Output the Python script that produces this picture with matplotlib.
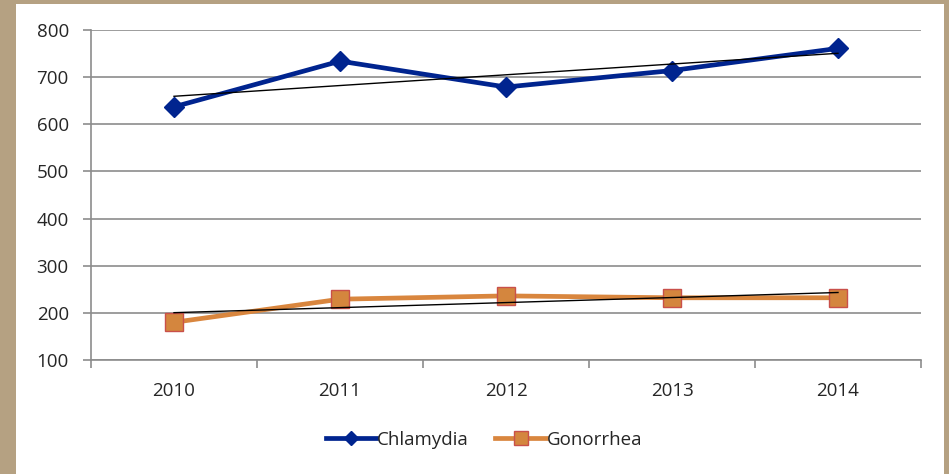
import matplotlib.pyplot as plt
from matplotlib.patches import Rectangle
import numpy as np

years = ["2010", "2011", "2012", "2013", "2014"]
chlamydia = [637, 734, 679, 714, 761]
gonorrhea = [180, 229, 236, 232, 232]

W, H = 949, 474
fig = plt.figure(figsize=(W / 100, H / 100), dpi=100)
fig.patch.set_facecolor("#b5a182")
# white chart area inside the tan frame
fig.patches.append(Rectangle((16 / W, 0), (944 - 16) / W, (H - 4) / H,
                             transform=fig.transFigure, facecolor="white",
                             edgecolor="none", zorder=-5))

ax = fig.add_axes([91 / W, 1 - 360 / H, (921 - 91) / W, 330 / H])
ax.set_facecolor("white")

x = np.arange(len(years))
ax.plot(x, chlamydia, color="#00248f", lw=3.4, marker="D", ms=10,
        mfc="#00248f", mec="#00248f", label="Chlamydia", zorder=3)
ax.plot(x, gonorrhea, color="#d9863e", lw=3.4, marker="s", ms=12.5,
        mfc="#d4863e", mec="#c9504a", mew=1, label="Gonorrhea", zorder=3)

# linear trend lines
for s in (chlamydia, gonorrhea):
    k, b = np.polyfit(x, s, 1)
    ax.plot(x, k * x + b, color="black", lw=1, zorder=4)

ax.set_xlim(-0.5, 4.5)
ax.set_ylim(100, 800)
ax.set_yticks(range(100, 801, 100))
ax.set_xticks(x)
ax.set_xticklabels(years)
ax.set_xticks(np.arange(-0.5, 5, 1), minor=True)
ax.tick_params(axis="x", which="major", length=0, pad=16)
ax.tick_params(axis="x", which="minor", length=6, color="#8c8c8c", width=1.2)
ax.tick_params(axis="y", length=6, color="#8c8c8c", width=1.2, pad=10)
for lab in ax.get_xticklabels() + ax.get_yticklabels():
    lab.set_fontsize(13.5)
    lab.set_color("#262626")
    lab.set_fontfamily("Open Sans")

ax.grid(axis="y", color="#8c8c8c", lw=1.2)
ax.set_axisbelow(True)
for sp in ["top", "right"]:
    ax.spines[sp].set_visible(False)
for sp in ["left", "bottom"]:
    ax.spines[sp].set_color("#8c8c8c")
    ax.spines[sp].set_linewidth(1.2)

leg = fig.legend(loc="center", bbox_to_anchor=(484 / W, 1 - 440 / H), ncol=2,
                 frameon=False, handlelength=2.7, handletextpad=0.05,
                 columnspacing=1.4, markerscale=0.75,
                 prop={"family": "Open Sans", "size": 13.5})
for t in leg.get_texts():
    t.set_color("#262626")

fig.savefig("out.png", dpi=100)
